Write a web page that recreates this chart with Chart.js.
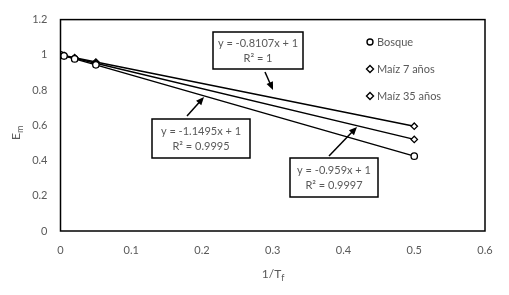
<!DOCTYPE html>
<html lang="es">
<head>
  <meta charset="UTF-8" />
  <title>Em vs 1/Tf</title>
  <script src="https://cdn.jsdelivr.net/npm/chart.js"></script>
  <style>
    html, body { margin: 0; padding: 0; background: #fff; }
    #wrap { width: 509px; height: 295px; position: relative; }
  </style>
</head>
<body>
  <div id="wrap"><canvas id="chart" width="509" height="295"></canvas></div>

  <script>
    // datos
    const xInvTf = [0, 0.005, 0.02, 0.05, 0.5];
    const bosque = [1, 0.994, 0.977, 0.943, 0.425];
    const maiz7 = [1, 0.995, 0.981, 0.952, 0.52];
    const maiz35 = [1, 0.996, 0.984, 0.959, 0.595];
    const seriesNames = ['Bosque', 'Maíz 7 años', 'Maíz 35 años'];
    const xTicks = [0, 0.1, 0.2, 0.3, 0.4, 0.5, 0.6];
    const yTicks = [0, 0.2, 0.4, 0.6, 0.8, 1, 1.2];
    const eqLabels = [
      ['y = -0.8107x + 1', 'R² = 1'],
      ['y = -1.1495x + 1', 'R² = 0.9995'],
      ['y = -0.959x + 1', 'R² = 0.9997']
    ];

    const FONT = 'Lato, "Open Sans", sans-serif';
    const GREY = '#595959';

    const toPts = ys => xInvTf.map((x, i) => ({ x: x, y: ys[i] }));

    function ds(label, ys, style) {
      return {
        label: label,
        data: toPts(ys),
        showLine: true,
        borderColor: '#000',
        borderWidth: 1.5,
        pointStyle: style,
        pointRadius: 3.2,
        pointBorderWidth: 1.3,
        pointBorderColor: '#000',
        pointBackgroundColor: '#fff'
      };
    }

    // cajas de ecuaciones + flechas, leyenda, títulos de ejes
    const extras = {
      id: 'extras',
      afterDatasetsDraw(chart) {
        const c = chart.ctx;
        const area = chart.chartArea;
        c.save();
        // marco del área
        c.strokeStyle = '#000';
        c.lineWidth = 1.5;
        c.strokeRect(area.left, area.top, area.right - area.left, area.bottom - area.top);

        function arrow(x1, y1, x2, y2) {
          const a = Math.atan2(y2 - y1, x2 - x1);
          c.strokeStyle = '#000';
          c.fillStyle = '#000';
          c.lineWidth = 1.5;
          c.beginPath();
          c.moveTo(x1, y1);
          c.lineTo(x2 - 5 * Math.cos(a), y2 - 5 * Math.sin(a));
          c.stroke();
          c.beginPath();
          c.moveTo(x2, y2);
          c.lineTo(x2 - 8 * Math.cos(a) + 3.5 * Math.sin(a), y2 - 8 * Math.sin(a) - 3.5 * Math.cos(a));
          c.lineTo(x2 - 8 * Math.cos(a) - 3.5 * Math.sin(a), y2 - 8 * Math.sin(a) + 3.5 * Math.cos(a));
          c.closePath();
          c.fill();
        }
        function box(l, t, r, b, lines) {
          c.fillStyle = '#fff';
          c.fillRect(l, t, r - l, b - t);
          c.strokeStyle = '#000';
          c.lineWidth = 1.5;
          c.strokeRect(l, t, r - l, b - t);
          c.fillStyle = GREY;
          c.font = '11px ' + FONT;
          c.textAlign = 'center';
          c.textBaseline = 'middle';
          const cx = (l + r) / 2, cy = (t + b) / 2;
          c.fillText(lines[0], cx, cy - 7.5);
          c.fillText(lines[1], cx, cy + 7.5);
        }
        arrow(265, 72, 273, 90);
        box(213, 32, 303, 69, eqLabels[0]);
        arrow(187, 116, 204, 97);
        box(152, 119, 250, 158, eqLabels[1]);
        arrow(329, 156, 357, 127);
        box(290, 158, 378, 197, eqLabels[2]);

        // leyenda
        const styles = ['circle', 'rectRot', 'rectRot'];
        const ly = [42, 69, 96];
        c.font = '11px ' + FONT;
        c.textAlign = 'left';
        c.textBaseline = 'middle';
        seriesNames.forEach((n, i) => {
          c.strokeStyle = '#000';
          c.lineWidth = 1.4;
          c.fillStyle = '#fff';
          c.beginPath();
          if (styles[i] === 'circle') c.arc(370, ly[i], 3, 0, Math.PI * 2);
          else { c.moveTo(370, ly[i] - 3.5); c.lineTo(373.5, ly[i]); c.lineTo(370, ly[i] + 3.5); c.lineTo(366.5, ly[i]); c.closePath(); }
          c.fill(); c.stroke();
          c.fillStyle = GREY;
          c.fillText(n, 377, ly[i] + 0.5);
        });

        // títulos de ejes con subíndices
        c.fillStyle = GREY;
        c.save();
        c.translate(16, 133);
        c.rotate(-Math.PI / 2);
        c.font = '12px ' + FONT;
        c.textAlign = 'left';
        c.textBaseline = 'alphabetic';
        const wE = c.measureText('E').width;
        c.fillText('E', -(wE + 7) / 2, 4);
        c.font = '9px ' + FONT;
        c.fillText('m', -(wE + 7) / 2 + wE, 7);
        c.restore();

        c.font = '12px ' + FONT;
        c.textAlign = 'left';
        c.textBaseline = 'alphabetic';
        const wT = c.measureText('1/T').width;
        const x0 = 273 - (wT + 3) / 2;
        c.fillText('1/T', x0, 278);
        c.font = '9px ' + FONT;
        c.fillText('f', x0 + wT, 281);
        c.restore();
      }
    };

    new Chart(document.getElementById('chart'), {
      type: 'scatter',
      data: {
        datasets: [
          ds(seriesNames[0], bosque, 'circle'),
          ds(seriesNames[1], maiz7, 'rectRot'),
          ds(seriesNames[2], maiz35, 'rectRot')
        ]
      },
      options: {
        responsive: false,
        animation: false,
        layout: { padding: { left: 0, top: 18, right: 24, bottom: 0 } },
        plugins: { legend: { display: false }, tooltip: { enabled: false } },
        scales: {
          x: {
            type: 'linear', min: 0, max: 0.6,
            afterBuildTicks: s => { s.ticks = xTicks.map(v => ({ value: v })); },
            afterFit: s => { s.height = 64; },
            grid: { display: false, drawTicks: false },
            border: { display: false },
            ticks: { color: GREY, font: { family: FONT, size: 11 }, padding: 13, maxRotation: 0,
                     callback: v => String(v) }
          },
          y: {
            type: 'linear', min: 0, max: 1.2,
            afterBuildTicks: s => { s.ticks = yTicks.map(v => ({ value: v })); },
            afterFit: s => { s.width = 60.5; },
            grid: { display: false, drawTicks: false },
            border: { display: false },
            ticks: { color: GREY, font: { family: FONT, size: 11 }, padding: 13,
                     callback: v => String(v) }
          }
        }
      },
      plugins: [extras]
    });
  </script>
</body>
</html>
